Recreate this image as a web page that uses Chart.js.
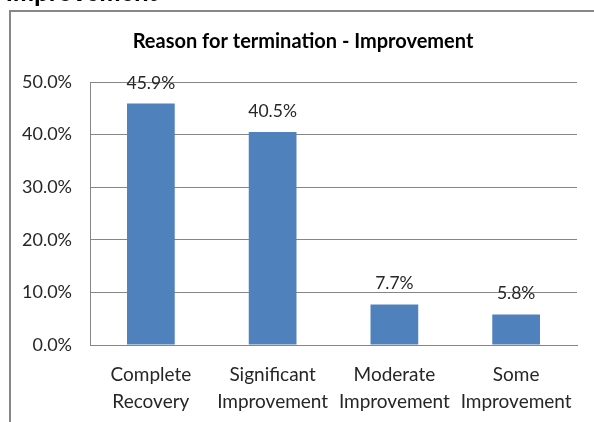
<!DOCTYPE html>
<html>
<head>
<meta charset="utf-8">
<script src="https://cdn.jsdelivr.net/npm/chart.js@4/dist/chart.umd.min.js"></script>
<style>
  html, body { margin: 0; padding: 0; background: #fff; overflow: hidden; }
  #wrap { position: relative; width: 594px; height: 422px; }
  #chart { position: absolute; left: 0; top: 0; }
  #frame { position: absolute; left: 9px; top: 10px; width: 700px; height: 600px;
           border-left: 2px solid #878787; border-top: 2px solid #878787; pointer-events: none; }
  #cut { position: absolute; left: 6px; top: -19px; font: bold 24px "Liberation Sans", Arial, sans-serif;
         color: #000; line-height: 24px; white-space: nowrap; }
</style>
</head>
<body>
<div id="wrap">
  <canvas id="chart" width="594" height="422"></canvas>
  <div id="frame"></div>
  <div id="cut">Improvement</div>
</div>
<script>
const chartTitle = "Reason for termination - Improvement";
const categories = [["Complete", "Recovery"], ["Significant", "Improvement"], ["Moderate", "Improvement"], ["Some", "Improvement"]];
const values = [45.9, 40.5, 7.7, 5.8];
const yTicks = { min: 0, max: 50, step: 10 };

const FONT = "Lato, 'Open Sans', sans-serif";
const GRID = "#868686";
const TEXT = "#262626";

const extras = {
  id: "extras",
  afterDatasetsDraw(chart) {
    const ctx = chart.ctx;
    const meta = chart.getDatasetMeta(0);
    ctx.save();
    ctx.font = "17.5px " + FONT;
    ctx.fillStyle = TEXT;
    ctx.textAlign = "center";
    ctx.textBaseline = "alphabetic";
    meta.data.forEach((el, i) => {
      ctx.fillText(values[i].toFixed(1) + "%", el.x, el.y - 15);
    });
    ctx.restore();
  },
  afterDraw(chart) {
    const ctx = chart.ctx;
    ctx.save();
    ctx.font = "bold 20px " + FONT;
    ctx.fillStyle = "#000";
    ctx.textAlign = "center";
    ctx.textBaseline = "middle";
    ctx.fillText(chartTitle, 303, 42);
    ctx.restore();
  }
};

new Chart(document.getElementById("chart"), {
  type: "bar",
  data: {
    labels: categories,
    datasets: [{
      data: values,
      backgroundColor: "#4F81BD",
      borderWidth: 0,
      barPercentage: 0.8,
      categoryPercentage: 0.49
    }]
  },
  options: {
    responsive: false,
    animation: false,
    events: [],
    layout: { padding: { top: 82, right: 17, left: 0, bottom: 0 } },
    plugins: { legend: { display: false }, title: { display: false }, tooltip: { enabled: false } },
    scales: {
      x: {
        grid: { display: false, drawTicks: false },
        border: { display: true, color: GRID, width: 1 },
        ticks: {
          color: TEXT, padding: 17, maxRotation: 0, autoSkip: false,
          font: { family: FONT, size: 19, lineHeight: 1.4 }
        },
        afterFit(scale) { scale.height = 77; }
      },
      y: {
        min: yTicks.min, max: yTicks.max,
        grid: { color: GRID, lineWidth: 1, drawTicks: false },
        border: { display: true, color: GRID, width: 1 },
        ticks: {
          stepSize: yTicks.step, color: TEXT, padding: 18,
          font: { family: FONT, size: 18 },
          callback: v => Number(v).toFixed(1) + "%"
        },
        afterFit(scale) { scale.width = 90; }
      }
    }
  },
  plugins: [extras]
});
</script>
</body>
</html>
